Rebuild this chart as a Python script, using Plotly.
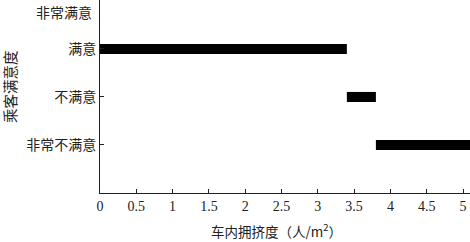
import plotly.graph_objects as go

levels = ["非常不满意", "不满意", "满意", "非常满意"]
level_pos = [1, 2, 3, 4]
bar_levels = ["满意", "不满意", "非常不满意"]
bar_start = [0, 3.4, 3.8]
bar_end = [3.4, 3.8, 5.1]
x_ticks = [0, 0.5, 1, 1.5, 2, 2.5, 3, 3.5, 4, 4.5, 5]
x_tick_text = ["0", "0.5", "1", "1.5", "2", "2.5", "3", "3.5", "4", "4.5", "5"]
x_title = "车内拥挤度（人/m<sup>2</sup>）"
y_title = "乘客满意度"

pos_map = dict(zip(levels, level_pos))
cjk = "Noto Sans CJK SC"
serif = "Liberation Serif, Times New Roman, serif"
ink = "#222"

fig = go.Figure()
fig.add_trace(go.Bar(
    orientation="h",
    y=[pos_map[l] for l in bar_levels],
    x=[e - s for s, e in zip(bar_start, bar_end)],
    base=bar_start,
    width=0.21,
    marker=dict(color="black", line=dict(width=0)),
    showlegend=False,
))

fig.update_layout(
    width=470, height=242,
    margin=dict(l=100, r=0, t=0, b=49),
    plot_bgcolor="white", paper_bgcolor="white",
    font=dict(family=serif, size=14, color=ink),
    xaxis=dict(
        range=[0, 5.096], tickvals=x_ticks, ticktext=x_tick_text,
        ticks="inside", ticklen=4, tickcolor=ink, showline=True, linecolor=ink,
        linewidth=1, showgrid=False, zeroline=False,
        tickfont=dict(family=serif, size=14, color=ink),
    ),
    yaxis=dict(
        range=[0, 4.02], tickvals=level_pos, ticktext=[levels[0], levels[1], levels[2], ""],
        ticks="inside", ticklen=4, tickcolor=ink, showline=True, linecolor=ink,
        linewidth=1, showgrid=False, zeroline=False,
        tickfont=dict(family=cjk, size=14, color=ink),
    ),
)
fig.add_annotation(
    x=0, xref="paper", y=3.77, yref="y", text=levels[3], showarrow=False,
    xanchor="right", xshift=-6, font=dict(family=cjk, size=14, color=ink),
)
fig.add_annotation(
    x=(276 - 100) / 370, xref="paper", y=0, yref="paper", text=x_title, showarrow=False,
    yanchor="top", yshift=-25, font=dict(family=cjk, size=13.5, color=ink),
)
fig.add_annotation(
    x=0, xref="paper", y=(193 - 87) / 193, yref="paper", text=y_title, showarrow=False,
    textangle=-90, xanchor="center", xshift=-91, font=dict(family=cjk, size=14.5, color=ink),
)

fig.write_html("out.html")
